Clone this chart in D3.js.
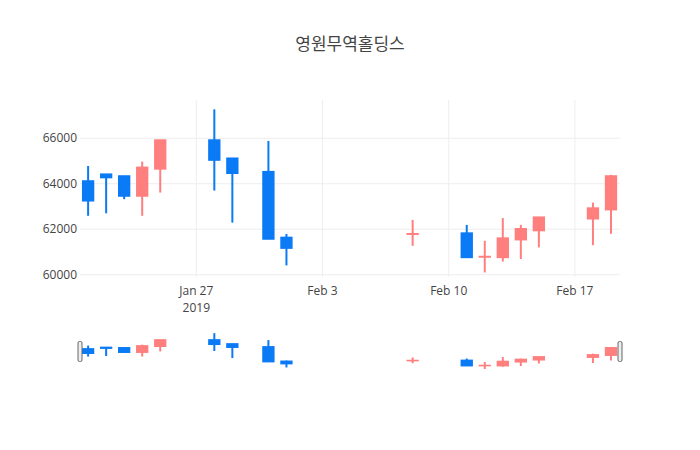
<!DOCTYPE html>
<html>
<head>
<meta charset="utf-8">
<script src="https://cdn.jsdelivr.net/npm/d3@7"></script>
<style>
  body { margin: 0; background: #fff; }
  text { font-family: "Open Sans", "Noto Sans CJK KR", sans-serif; }
</style>
</head>
<body>
<script>
// daily prices
var dates = ["2019-01-21", "2019-01-22", "2019-01-23", "2019-01-24", "2019-01-25",
             "2019-01-28", "2019-01-29", "2019-01-31", "2019-02-01", "2019-02-08",
             "2019-02-11", "2019-02-12", "2019-02-13", "2019-02-14", "2019-02-15",
             "2019-02-18", "2019-02-19"];
var opens  = [64120, 64420, 64340, 63460, 64650, 65920, 65120, 64530, 61640, 61780,
              61830, 60780, 60760, 61540, 61940, 62460, 62860];
var highs  = [64780, 64420, 64340, 64970, 65920, 67270, 65120, 65880, 61790, 62410,
              62190, 61490, 62490, 62190, 62530, 63170, 64390];
var lows   = [62590, 62700, 63320, 62590, 63610, 63700, 62290, 61570, 60410, 61270,
              60760, 60100, 60580, 60690, 61200, 61300, 61800];
var closes = [63250, 64270, 63460, 64720, 65920, 65040, 64460, 61570, 61170, 61800,
              60760, 60800, 61610, 62020, 62530, 62930, 64340];

var yTicks = [60000, 62000, 64000, 66000];
var xTicks = ["2019-01-27", "2019-02-03", "2019-02-10", "2019-02-17"];
var xTickLabels = [["Jan 27", "2019"], ["Feb 3"], ["Feb 10"], ["Feb 17"]];

var title = "영원무역홀딩스";

var width = 700, height = 450;
var margin = {left: 80, right: 80, top: 100};
var plotBottom = 277;
var sliderTop = 331, sliderBottom = 371;

var upColor = "#ff7f7f", downColor = "#0a7af5";

var parse = d3.utcParse("%Y-%m-%d");
var day = 24 * 3600 * 1000;

var data = dates.map(function(d, i) {
    return {date: parse(d), open: opens[i], high: highs[i], low: lows[i], close: closes[i]};
});

var svg = d3.select("body")
    .append("svg")
        .attr("width", width)
        .attr("height", height);

var x = d3.scaleUtc()
    .domain([new Date(parse(dates[0]).getTime() - 0.45 * day),
             new Date(parse(dates[dates.length - 1]).getTime() + 0.5 * day)])
    .range([margin.left, width - margin.right]);

var y = d3.scaleLinear().domain([59900, 67680]).range([plotBottom, margin.top]);
var ySlider = d3.scaleLinear().domain([59700, 67700]).range([sliderBottom, sliderTop]);

// grid lines
svg.append("g").selectAll("line.yg").data(yTicks).enter().append("line")
    .attr("x1", margin.left).attr("x2", width - margin.right)
    .attr("y1", function(d) { return y(d); })
    .attr("y2", function(d) { return y(d); })
    .attr("stroke", "#eee").attr("stroke-width", 1);

svg.append("g").selectAll("line.xg").data(xTicks).enter().append("line")
    .attr("x1", function(d) { return x(parse(d)); })
    .attr("x2", function(d) { return x(parse(d)); })
    .attr("y1", margin.top).attr("y2", plotBottom)
    .attr("stroke", "#eee").attr("stroke-width", 1);

// y tick labels
svg.append("g").selectAll("text").data(yTicks).enter().append("text")
    .attr("x", margin.left - 3)
    .attr("y", function(d) { return y(d) + 4; })
    .attr("text-anchor", "end")
    .attr("font-size", "12px")
    .attr("fill", "#444")
    .text(function(d) { return d; });

// x tick labels
var xl = svg.append("g").selectAll("text").data(xTicks).enter().append("text")
    .attr("text-anchor", "middle")
    .attr("font-size", "12px")
    .attr("fill", "#444");
xl.each(function(d, i) {
    var t = d3.select(this);
    xTickLabels[i].forEach(function(s, k) {
        t.append("tspan")
            .attr("x", x(parse(d)))
            .attr("y", plotBottom + 18 + k * 17)
            .text(s);
    });
});

function drawCandles(g, ys, wickW) {
    var half = x(new Date(day * 0.3)) - x(new Date(0));
    var c = g.selectAll("g.candle").data(data).enter().append("g");
    c.append("line")
        .attr("x1", function(d) { return x(d.date); })
        .attr("x2", function(d) { return x(d.date); })
        .attr("y1", function(d) { return ys(d.high); })
        .attr("y2", function(d) { return ys(d.low); })
        .attr("stroke", function(d) { return d.close >= d.open ? upColor : downColor; })
        .attr("stroke-width", wickW);
    c.append("rect")
        .attr("x", function(d) { return x(d.date) - half; })
        .attr("width", half * 2)
        .attr("y", function(d) { return ys(Math.max(d.open, d.close)); })
        .attr("height", function(d) { return Math.abs(ys(d.open) - ys(d.close)); })
        .attr("fill", function(d) { return d.close >= d.open ? upColor : downColor; })
        .attr("stroke", function(d) { return d.close >= d.open ? upColor : downColor; })
        .attr("stroke-width", 1.5);
}

drawCandles(svg.append("g"), y, 2);

// range slider
var slider = svg.append("g");
drawCandles(slider, ySlider, 2);
[margin.left, width - margin.right].forEach(function(px) {
    slider.append("rect")
        .attr("x", px - 2)
        .attr("y", sliderTop + 10.5)
        .attr("width", 4)
        .attr("height", 20)
        .attr("rx", 1.5)
        .attr("fill", "#eee")
        .attr("stroke", "#666")
        .attr("stroke-width", 1);
});

// title
svg.append("text")
    .attr("x", width / 2)
    .attr("y", 50)
    .attr("text-anchor", "middle")
    .attr("font-size", "17px")
    .attr("fill", "#444")
    .text(title);
</script>
</body>
</html>
